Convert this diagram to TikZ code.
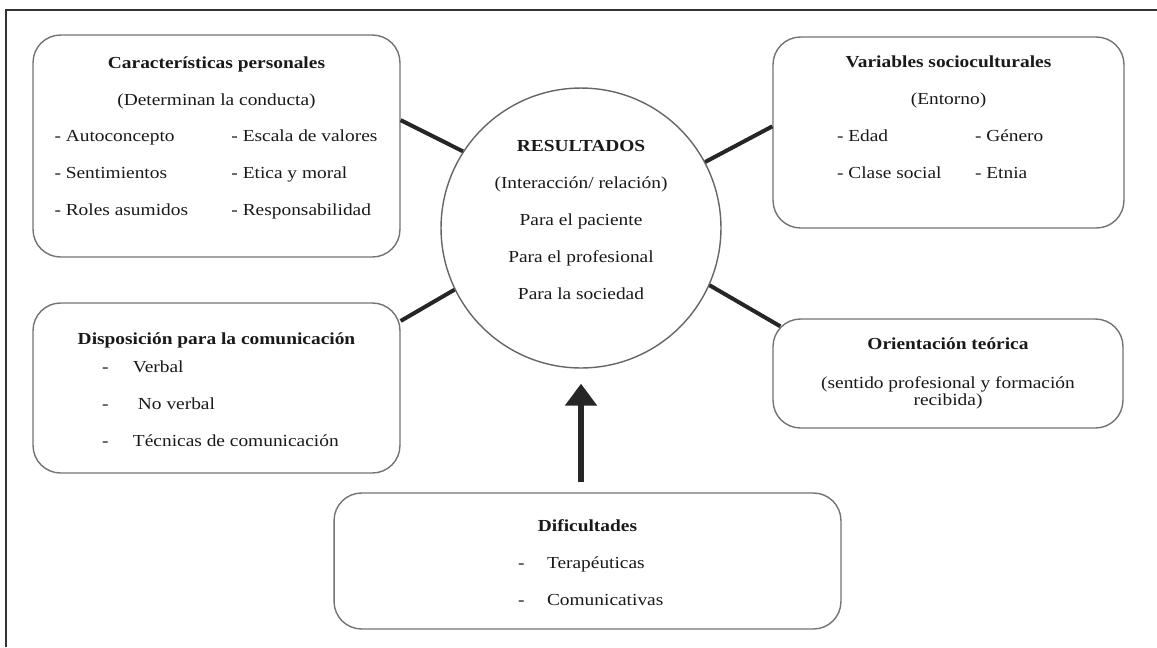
\documentclass[tikz,border=0pt]{standalone}
\usepackage{fontspec}
\setmainfont{Liberation Serif}[FakeStretch=1.15]
\usepackage{tikz}
\usetikzlibrary{
    arrows.meta,
    calc
}

\newlength\px
\setlength\px{0.02cm}

\tikzset{
  box/.style={draw=black!55, line width=0.8pt, rounded corners=0.55cm, inner sep=0pt},
  link/.style={line width=0.08cm, black!85},
  txt/.style={font=\fontsize{9.6}{21}\selectfont, text=black!90}
}

\begin{document}
\begin{tikzpicture}[x=0.02cm,y=-0.02cm]
  \useasboundingbox (0,0) rectangle (1157,647);

  % Frame
  \draw[line width=1pt, black!80] (6,647) -- (6,10) -- (1157,10);

  % Central circle
  \node[circle, draw=black!60, line width=0.8pt, minimum size=5.6cm, inner sep=0pt, txt] (res) at (581,228) {\smash{\begin{tabular}{@{}c@{}}
    \textbf{RESULTADOS}\\
    (Interacción/ relación)\\
    Para el paciente\\
    Para el profesional\\
    Para la sociedad\\[6pt]
  \end{tabular}}};

  % Personal characteristics
  \node[box, txt, minimum width=7.34cm, minimum height=4.44cm] (carac) at (216.5,146) {\begin{tabular}{@{}c@{}}
    \textbf{Características personales}\\
    (Determinan la conducta)\\
    \makebox[177\px][l]{- Autoconcepto}\makebox[147\px][l]{- Escala de valores}\\
    \makebox[177\px][l]{- Sentimientos}\makebox[147\px][l]{- Etica y moral}\\
    \makebox[177\px][l]{- Roles asumidos}\makebox[147\px][l]{- Responsabilidad}\\[13pt]
  \end{tabular}};

  % Sociocultural variables
  \node[box, txt, minimum width=7.02cm, minimum height=3.82cm] (vars) at (948.5,132.5) {\begin{tabular}{@{}c@{}}
    \textbf{Variables socioculturales}\\
    (Entorno)\\
    \makebox[138\px][l]{- Edad}\makebox[85\px][l]{- Género}\\
    \makebox[138\px][l]{- Clase social}\makebox[85\px][l]{- Etnia}\\[19pt]
  \end{tabular}};

  % Communication
  \node[box, txt, minimum width=7.34cm, minimum height=3.4cm] (disp) at (216.5,388) {\begin{tabular}{@{}c@{}}
    \textbf{Disposición para la comunicación}\\[-5pt]
    \makebox[229\px][l]{\makebox[31\px][l]{-}Verbal}\\
    \makebox[229\px][l]{\makebox[36\px][l]{-}No verbal}\\
    \makebox[229\px][l]{\makebox[31\px][l]{-}Técnicas de comunicación}\\
  \end{tabular}};

  % Theoretical orientation
  \node[box, align=center, font=\fontsize{9.6}{9.7}\selectfont, text=black!90, minimum width=7cm, minimum height=2.18cm] (orient) at (948,373.5) {\textbf{Orientación teórica}\\[12pt]
    (sentido profesional y formación\\ recibida)};

  % Difficulties
  \node[box, txt, minimum width=10.14cm, minimum height=2.72cm] (dif) at (587.5,561) {\begin{tabular}{@{}c@{}}
    \textbf{Dificultades}\\
    \makebox[139\px][l]{\makebox[29\px][l]{-}Terapéuticas}\\
    \makebox[139\px][l]{\makebox[29\px][l]{-}Comunicativas}\\
  \end{tabular}};

  % Links to the circle
  \draw[link] (carac.8) -- (res.147);
  \draw[link] (vars.178) -- (res.28);
  \draw[link] (disp.20) -- (res.206);
  \draw[link] ([shift={(8,8)}]orient.north west) -- (res.-24);

  % Arrow from difficulties
  \draw[link, line width=0.11cm, -{Triangle[width=0.62cm,length=0.44cm]}, shorten <=0.2cm, shorten >=0.3cm] (res.south |- dif.north) -- (res.south);

\end{tikzpicture}
\end{document}
